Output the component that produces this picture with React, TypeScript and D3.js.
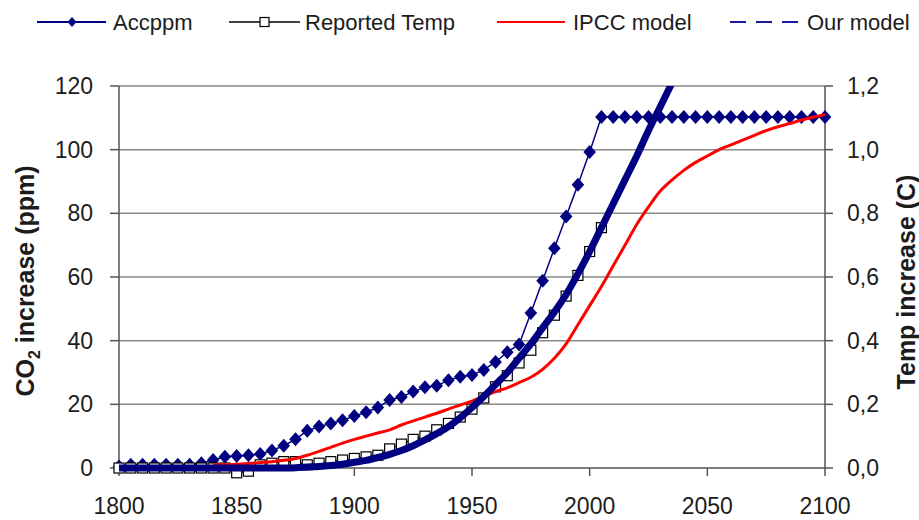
import React from 'react';
import * as d3 from 'd3';

// years every 5
const accYears = [1800, 1805, 1810, 1815, 1820, 1825, 1830, 1835, 1840, 1845, 1850, 1855, 1860, 1865, 1870, 1875, 1880, 1885, 1890, 1895, 1900, 1905, 1910, 1915, 1920, 1925, 1930, 1935, 1940, 1945, 1950, 1955, 1960, 1965, 1970, 1975, 1980, 1985, 1990, 1995, 2000, 2005, 2010, 2015, 2020, 2025, 2030, 2035, 2040, 2045, 2050, 2055, 2060, 2065, 2070, 2075, 2080, 2085, 2090, 2095, 2100];
const accppm = [0.5, 1, 1, 1, 1, 1, 1, 1.5, 2.5, 3.5, 3.8, 4, 4.4, 5.5, 7, 9, 11.7, 13, 14, 15, 16.3, 17.5, 19, 21.4, 22.3, 24, 25.4, 25.8, 27.6, 28.7, 29.2, 30.8, 33.3, 36.4, 38.8, 48.7, 58.8, 69, 79, 89, 99.3, 110.3, 110.3, 110.3, 110.3, 110.3, 110.3, 110.3, 110.3, 110.3, 110.3, 110.3, 110.3, 110.3, 110.3, 110.3, 110.3, 110.3, 110.3, 110.3, 110.3];

const tempYears = [1800, 1805, 1810, 1815, 1820, 1825, 1830, 1835, 1840, 1845, 1850, 1855, 1860, 1865, 1870, 1875, 1880, 1885, 1890, 1895, 1900, 1905, 1910, 1915, 1920, 1925, 1930, 1935, 1940, 1945, 1950, 1955, 1960, 1965, 1970, 1975, 1980, 1985, 1990, 1995, 2000, 2005];
const reportedTemp = [0, 0, 0, 0, 0, 0, 0, 0, 0, 0, -0.015, -0.01, 0.01, 0.015, 0.02, 0.02, 0.01, 0.015, 0.02, 0.025, 0.03, 0.035, 0.04, 0.06, 0.075, 0.09, 0.1, 0.12, 0.14, 0.16, 0.185, 0.22, 0.255, 0.29, 0.33, 0.37, 0.425, 0.48, 0.54, 0.605, 0.68, 0.755];

const ipccYears = [1840, 1845, 1850, 1855, 1860, 1865, 1870, 1875, 1880, 1885, 1890, 1895, 1900, 1905, 1910, 1915, 1920, 1925, 1930, 1935, 1940, 1945, 1950, 1955, 1960, 1965, 1970, 1975, 1980, 1985, 1990, 1995, 2000, 2005, 2010, 2015, 2020, 2025, 2030, 2035, 2040, 2045, 2050, 2055, 2060, 2065, 2070, 2075, 2080, 2085, 2090, 2095, 2100];
const ipccModel = [0.01, 0.01, 0.012, 0.014, 0.017, 0.02, 0.024, 0.03, 0.04, 0.052, 0.065, 0.078, 0.09, 0.1, 0.11, 0.12, 0.135, 0.148, 0.16, 0.172, 0.185, 0.198, 0.21, 0.225, 0.24, 0.252, 0.268, 0.285, 0.31, 0.345, 0.39, 0.45, 0.51, 0.57, 0.635, 0.7, 0.765, 0.82, 0.87, 0.905, 0.935, 0.96, 0.98, 1.0, 1.015, 1.03, 1.045, 1.06, 1.072, 1.082, 1.093, 1.102, 1.11];

const modelYears = [1800, 1805, 1810, 1815, 1820, 1825, 1830, 1835, 1840, 1845, 1850, 1855, 1860, 1865, 1870, 1875, 1880, 1885, 1890, 1895, 1900, 1905, 1910, 1915, 1920, 1925, 1930, 1935, 1940, 1945, 1950, 1955, 1960, 1965, 1970, 1975, 1980, 1985, 1990, 1995, 2000, 2005, 2010, 2015, 2020, 2025, 2030, 2035, 2040];
const ourModel = [0, 0, 0, 0, 0, 0, 0, 0, 0, 0, 0, 0, 0, 0, 0, 0.001, 0.003, 0.005, 0.008, 0.012, 0.018, 0.024, 0.033, 0.043, 0.055, 0.07, 0.088, 0.108, 0.13, 0.158, 0.19, 0.225, 0.262, 0.3, 0.345, 0.39, 0.44, 0.49, 0.545, 0.61, 0.68, 0.755, 0.83, 0.905, 0.98, 1.06, 1.135, 1.21, 1.285];

const xTicks = [1800, 1850, 1900, 1950, 2000, 2050, 2100];
const leftTicks = [0, 20, 40, 60, 80, 100, 120];
const rightTicks = [0, 0.2, 0.4, 0.6, 0.8, 1.0, 1.2];

const W = 919;
const H = 520;
const m = { l: 119, r: 825, t: 86, b: 468 };
const NAVY = '#000080';
const FONT = '"Liberation Sans", Arial, sans-serif';
const TXT = '#1c1c1c';

const App = () => {
  const x = d3.scaleLinear().domain([1800, 2100]).range([m.l, m.r]);
  const yL = d3.scaleLinear().domain([0, 120]).range([m.b, m.t]);
  const yR = d3.scaleLinear().domain([0, 1.2]).range([m.b, m.t]);

  const accPts: [number, number][] = accYears.map((yr, i) => [x(yr), yL(accppm[i])]);
  const tempPts: [number, number][] = tempYears.map((yr, i) => [x(yr), yR(reportedTemp[i])]);
  const ipccPts: [number, number][] = ipccYears.map((yr, i) => [x(yr), yR(ipccModel[i])]);
  const modelPts: [number, number][] = modelYears.map((yr, i) => [x(yr), yR(ourModel[i])]);

  const straight = d3.line();
  const smooth = d3.line().curve(d3.curveMonotoneX);

  const diamond = (cx: number, cy: number, r: number) =>
    `M${cx},${cy - r}L${cx + r * 0.9},${cy}L${cx},${cy + r}L${cx - r * 0.9},${cy}Z`;

  const legendY = 22;

  return (
    <svg width={W} height={H} style={{ position: 'absolute', left: 0, top: 0, background: '#fff' }} fontFamily={FONT}>
      <defs>
        <clipPath id="plotClip">
          <rect x={m.l} y={m.t} width={m.r - m.l} height={m.b - m.t + 10} />
        </clipPath>
      </defs>
      <rect x={0} y={0} width={W} height={H} fill="#fff" />

      {/* gridlines */}
      {leftTicks.filter(t => t > 0).map(t => (
        <line key={'g' + t} x1={m.l} x2={m.r} y1={yL(t)} y2={yL(t)} stroke="#8a8a8a" strokeWidth={1.5} />
      ))}

      {/* axes */}
      <line x1={m.l} x2={m.l} y1={m.t} y2={m.b} stroke="#555" strokeWidth={1.5} />
      <line x1={m.r} x2={m.r} y1={m.t} y2={m.b} stroke="#555" strokeWidth={1.5} />
      <line x1={m.l} x2={m.r} y1={m.b} y2={m.b} stroke="#555" strokeWidth={1.5} />
      {leftTicks.map(t => (
        <g key={'l' + t}>
          <line x1={m.l - 9} x2={m.l} y1={yL(t)} y2={yL(t)} stroke="#555" strokeWidth={1.5} />
          <text x={93} y={yL(t) + 8} textAnchor="end" fontSize={23} fill={TXT}>{t}</text>
        </g>
      ))}
      {rightTicks.map(t => (
        <g key={'r' + t}>
          <line x1={m.r} x2={m.r + 8} y1={yR(t)} y2={yR(t)} stroke="#555" strokeWidth={1.5} />
          <text x={847} y={yR(t) + 8} textAnchor="start" fontSize={23} fill={TXT}>{t.toFixed(1).replace('.', ',')}</text>
        </g>
      ))}
      {xTicks.map(t => (
        <g key={'x' + t}>
          <line x1={x(t)} x2={x(t)} y1={m.b} y2={m.b + 8} stroke="#555" strokeWidth={1.5} />
          <text x={x(t)} y={514} textAnchor="middle" fontSize={23} fill={TXT}>{t}</text>
        </g>
      ))}

      {/* axis titles */}
      <text transform="translate(34,281) rotate(-90)" textAnchor="middle" fontSize={25} fontWeight="bold" fill={TXT}>
        CO<tspan fontSize={16} dy={6}>2</tspan><tspan dy={-6}> increase (ppm)</tspan>
      </text>
      <text transform="translate(915,282) rotate(-90)" textAnchor="middle" fontSize={25} fontWeight="bold" fill={TXT}>
        Temp increase (C)
      </text>

      {/* Accppm */}
      <path d={straight(accPts) || ''} fill="none" stroke={NAVY} strokeWidth={1.5} />
      {accPts.map((p, i) => (
        <path key={'d' + i} d={diamond(p[0], p[1], 7)} fill={NAVY} />
      ))}

      {/* Reported Temp */}
      <path d={straight(tempPts) || ''} fill="none" stroke="#000" strokeWidth={1.2} />
      {tempPts.map((p, i) => (
        <rect key={'s' + i} x={p[0] - 5} y={p[1] - 5} width={10} height={10} fill="#fff" stroke="#000" strokeWidth={1.2} />
      ))}

      {/* IPCC model */}
      <path d={smooth(ipccPts) || ''} fill="none" stroke="#ff0000" strokeWidth={3} />

      {/* Our model */}
      <path d={smooth(modelPts) || ''} fill="none" stroke={NAVY} strokeWidth={7} clipPath="url(#plotClip)" />

      {/* legend */}
      <g fontSize={22} fill={TXT}>
        <line x1={37} x2={106} y1={legendY} y2={legendY} stroke={NAVY} strokeWidth={2} />
        <path d={diamond(72, legendY, 5)} fill={NAVY} />
        <text x={113} y={legendY + 8}>Accppm</text>

        <line x1={229} x2={300} y1={legendY} y2={legendY} stroke="#000" strokeWidth={1.5} />
        <rect x={260} y={legendY - 4.5} width={9} height={9} fill="#fff" stroke="#000" strokeWidth={1.2} />
        <text x={305} y={legendY + 8}>Reported Temp</text>

        <line x1={497} x2={565} y1={legendY} y2={legendY} stroke="#ff0000" strokeWidth={2} />
        <text x={573} y={legendY + 8}>IPCC model</text>

        <line x1={730} x2={798} y1={legendY} y2={legendY} stroke="#1a1aa0" strokeWidth={2} strokeDasharray="16,10" />
        <text x={807} y={legendY + 8}>Our model</text>
      </g>
    </svg>
  );
};

export default App;
